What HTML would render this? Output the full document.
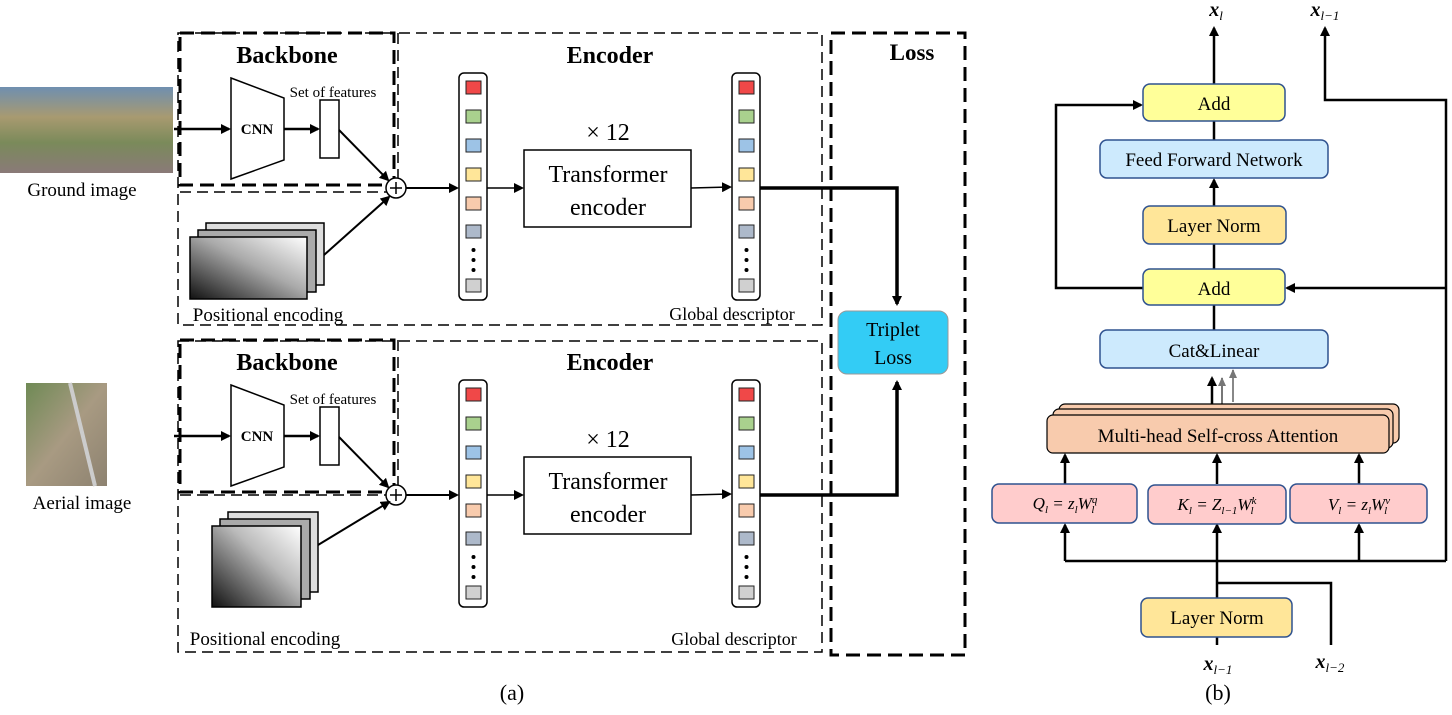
<!DOCTYPE html>
<html><head><meta charset="utf-8"><style>body{margin:0;background:#fff}svg{display:block}text{font-family:"Liberation Serif",serif}</style></head><body>
<svg width="1452" height="715" viewBox="0 0 1452 715" xmlns="http://www.w3.org/2000/svg">
<defs>
<marker id="a" markerWidth="10" markerHeight="10" refX="8" refY="5" orient="auto" markerUnits="userSpaceOnUse"><path d="M0,0L10,5L0,10z" fill="#000"/></marker>
<marker id="g" markerWidth="10" markerHeight="10" refX="8" refY="5" orient="auto" markerUnits="userSpaceOnUse"><path d="M0,1L9,5L0,9z" fill="#777"/></marker>
<linearGradient id="pe" x1="0" y1="1" x2="1" y2="0"><stop offset="0" stop-color="#111"/><stop offset="0.55" stop-color="#aaa"/><stop offset="1" stop-color="#fff"/></linearGradient>
<linearGradient id="pe2" x1="0" y1="1" x2="1" y2="0"><stop offset="0" stop-color="#111"/><stop offset="0.6" stop-color="#bbb"/><stop offset="1" stop-color="#fff"/></linearGradient>
<linearGradient id="gi" x1="0" y1="0" x2="0" y2="1"><stop offset="0" stop-color="#6f8fb0"/><stop offset="0.35" stop-color="#a89a70"/><stop offset="0.65" stop-color="#7a8a5a"/><stop offset="1" stop-color="#8a7a78"/></linearGradient>
<linearGradient id="ai" x1="0" y1="0" x2="1" y2="1"><stop offset="0" stop-color="#6f8a55"/><stop offset="0.5" stop-color="#a89a82"/><stop offset="1" stop-color="#8d8270"/></linearGradient>
</defs>

<!-- images -->
<rect x="0" y="87" width="173" height="86" fill="url(#gi)"/>
<rect x="26" y="383" width="81" height="103" fill="url(#ai)"/>
<line x1="70" y1="383" x2="95" y2="486" stroke="#ccc" stroke-width="4"/>
<text x="82" y="196" font-size="19" text-anchor="middle">Ground image</text>
<text x="82" y="509" font-size="19" text-anchor="middle">Aerial image</text>

<!-- Loss box -->
<rect x="831" y="33" width="134" height="622" fill="none" stroke="#000" stroke-width="3" stroke-dasharray="14,7"/>
<text x="912" y="60" font-size="23" font-weight="bold" text-anchor="middle">Loss</text>
<rect x="838" y="311" width="110" height="63" rx="9" fill="#33ccf5" stroke="#999"/>
<text x="893" y="336" font-size="20" text-anchor="middle">Triplet</text>
<text x="893" y="364" font-size="20" text-anchor="middle">Loss</text>

<!-- outer boxes -->
<rect x="178" y="33" width="644" height="292" fill="none" stroke="#000" stroke-width="1.5" stroke-dasharray="11,6"/>
<rect x="178" y="341" width="644" height="311" fill="none" stroke="#000" stroke-width="1.5" stroke-dasharray="11,6"/>
<line x1="180" y1="192" x2="390" y2="192" stroke="#000" stroke-width="1.5" stroke-dasharray="11,6"/>
<line x1="180" y1="495" x2="390" y2="495" stroke="#000" stroke-width="1.5" stroke-dasharray="11,6"/>

<g id="core">
<line x1="398" y1="33" x2="398" y2="185" stroke="#000" stroke-width="1.5" stroke-dasharray="11,6"/>
<rect x="180" y="33" width="214" height="152" fill="none" stroke="#000" stroke-width="3" stroke-dasharray="14,7"/>
<text x="287" y="63" font-size="24" font-weight="bold" text-anchor="middle">Backbone</text>
<text x="610" y="63" font-size="24" font-weight="bold" text-anchor="middle">Encoder</text>
<path d="M231,78L284,98L284,160L231,179z" fill="#fff" stroke="#000" stroke-width="1.5"/>
<text x="257" y="134" font-size="15" font-weight="bold" text-anchor="middle">CNN</text>
<rect x="320" y="100" width="19" height="58" fill="#fff" stroke="#000" stroke-width="1.5"/>
<text x="333" y="97" font-size="15" text-anchor="middle">Set of features</text>
<line x1="174" y1="129" x2="229" y2="129" stroke="#000" stroke-width="2.5" marker-end="url(#a)"/>
<line x1="284" y1="129" x2="318" y2="129" stroke="#000" stroke-width="2.5" marker-end="url(#a)"/>
<line x1="339" y1="130" x2="388" y2="180" stroke="#000" stroke-width="2" marker-end="url(#a)"/>
<circle cx="396" cy="188" r="10" fill="#fff" stroke="#000" stroke-width="1.5"/>
<path d="M390,188h12M396,182v12" stroke="#000" stroke-width="1.5"/>
<line x1="406" y1="188" x2="457" y2="188" stroke="#000" stroke-width="2" marker-end="url(#a)"/>
<g id="col">
<rect x="459" y="73" width="28" height="227" rx="5" fill="#fff" stroke="#000" stroke-width="1.5"/>
<rect x="466" y="81" width="15" height="13" fill="#f04848" stroke="#222"/>
<rect x="466" y="110" width="15" height="13" fill="#a9d18e" stroke="#222"/>
<rect x="466" y="139" width="15" height="13" fill="#9dc3e6" stroke="#222"/>
<rect x="466" y="168" width="15" height="13" fill="#ffe699" stroke="#222"/>
<rect x="466" y="197" width="15" height="13" fill="#f8cbad" stroke="#222"/>
<rect x="466" y="225" width="15" height="13" fill="#adb9ca" stroke="#222"/>
<circle cx="473.5" cy="250" r="2" fill="#000"/><circle cx="473.5" cy="260" r="2" fill="#000"/><circle cx="473.5" cy="270" r="2" fill="#000"/>
<rect x="466" y="279" width="15" height="13" fill="#d0d0d0" stroke="#222"/>
</g>
<use href="#col" x="273"/>
<line x1="487" y1="188" x2="522" y2="188" stroke="#000" stroke-width="1.5" marker-end="url(#a)"/>
<rect x="524" y="150" width="167" height="77" fill="#fff" stroke="#000" stroke-width="1.5"/>
<text x="608" y="182" font-size="24" text-anchor="middle">Transformer</text>
<text x="608" y="215" font-size="24" text-anchor="middle">encoder</text>
<text x="608" y="140" font-size="24" text-anchor="middle">× 12</text>
<line x1="691" y1="188" x2="730" y2="187" stroke="#000" stroke-width="1.5" marker-end="url(#a)"/>
</g>
<use href="#core" y="307"/>

<!-- top positional encoding -->
<rect x="206" y="223" width="118" height="62" fill="#ddd" stroke="#000" stroke-width="1.5"/>
<rect x="198" y="230" width="118" height="62" fill="#aaa" stroke="#000" stroke-width="1.5"/>
<rect x="190" y="237" width="117" height="62" fill="url(#pe)" stroke="#000" stroke-width="1.5"/>
<line x1="324" y1="255" x2="389" y2="197" stroke="#000" stroke-width="2" marker-end="url(#a)"/>
<text x="268" y="321" font-size="19" text-anchor="middle">Positional encoding</text>
<text x="732" y="320" font-size="18" text-anchor="middle">Global descriptor</text>

<!-- bottom positional encoding -->
<rect x="228" y="512" width="90" height="80" fill="#ddd" stroke="#000" stroke-width="1.5"/>
<rect x="220" y="519" width="90" height="80" fill="#aaa" stroke="#000" stroke-width="1.5"/>
<rect x="212" y="526" width="89" height="81" fill="url(#pe2)" stroke="#000" stroke-width="1.5"/>
<line x1="318" y1="545" x2="389" y2="502" stroke="#000" stroke-width="2" marker-end="url(#a)"/>
<text x="265" y="645" font-size="19" text-anchor="middle">Positional encoding</text>
<text x="734" y="645" font-size="18" text-anchor="middle">Global descriptor</text>

<!-- thick connectors to loss -->
<path d="M760,188H897V304" fill="none" stroke="#000" stroke-width="3.5" marker-end="url(#a)"/>
<path d="M760,495H897V382" fill="none" stroke="#000" stroke-width="3.5" marker-end="url(#a)"/>

<text x="512" y="700" font-size="22" text-anchor="middle">(a)</text>
<text x="1218" y="700" font-size="22" text-anchor="middle">(b)</text>

<!-- right panel -->
<g stroke="#000" stroke-width="2.5" fill="none">
<path d="M1214,84V28" marker-end="url(#a)"/>
<path d="M1214,140V121"/>
<path d="M1214,206V180" marker-end="url(#a)"/>
<path d="M1214,269V244"/>
<path d="M1214,330V305"/>
<path d="M1143,288H1056V105H1141" marker-end="url(#a)"/>
<path d="M1446,288H1287" marker-end="url(#a)"/>
<path d="M1446,561V100H1325V28" marker-end="url(#a)"/>
<path d="M1065,561H1446"/>
<path d="M1217,598V525" marker-end="url(#a)"/>
<path d="M1065,561V525" marker-end="url(#a)"/>
<path d="M1359,561V525" marker-end="url(#a)"/>
<path d="M1065,484V455" marker-end="url(#a)"/>
<path d="M1217,484V455" marker-end="url(#a)"/>
<path d="M1359,484V455" marker-end="url(#a)"/>
<path d="M1212,415V378" marker-end="url(#a)"/>
<path d="M1217,583H1331V645"/>
<path d="M1217,637V645"/>
</g>
<path d="M1222,404V378" stroke="#777" stroke-width="2" marker-end="url(#g)"/>
<path d="M1233,402V370" stroke="#888" stroke-width="2" marker-end="url(#g)"/>
<g stroke="#2f528f" stroke-width="1.5">
<rect x="1143" y="84" width="142" height="37" rx="7" fill="#ffff99"/>
<rect x="1100" y="140" width="228" height="38" rx="7" fill="#cdeafd"/>
<rect x="1143" y="206" width="143" height="38" rx="7" fill="#ffe699"/>
<rect x="1143" y="269" width="142" height="36" rx="7" fill="#ffff99"/>
<rect x="1100" y="330" width="228" height="38" rx="7" fill="#cdeafd"/>
<rect x="1141" y="598" width="151" height="39" rx="7" fill="#ffe699"/>
<rect x="992" y="484" width="145" height="39" rx="7" fill="#ffcccc"/>
<rect x="1148" y="485" width="138" height="39" rx="7" fill="#ffcccc"/>
<rect x="1290" y="484" width="137" height="39" rx="7" fill="#ffcccc"/>
</g>
<g stroke="#000" stroke-width="1.2" fill="#f8cbad">
<rect x="1059" y="404" width="340" height="39" rx="6"/>
<rect x="1053" y="409" width="340" height="39" rx="6"/>
<rect x="1047" y="415" width="342" height="38" rx="6"/>
</g>
<g font-size="19" text-anchor="middle">
<text x="1214" y="110">Add</text>
<text x="1214" y="166">Feed Forward Network</text>
<text x="1214" y="232">Layer Norm</text>
<text x="1214" y="295">Add</text>
<text x="1214" y="357">Cat&amp;Linear</text>
<text x="1217" y="624">Layer Norm</text>
<text x="1218" y="442">Multi-head Self-cross Attention</text>
</g>
<g font-size="17" font-style="italic" text-anchor="middle">
<text x="1065" y="509">Q<tspan font-size="11" dy="4">l</tspan><tspan dy="-4"> = z</tspan><tspan font-size="11" dy="4">l</tspan><tspan dy="-4">W</tspan><tspan font-size="11" dy="-6">q</tspan><tspan font-size="11" dx="-6" dy="10">l</tspan></text>
<text x="1217" y="510">K<tspan font-size="11" dy="4">l</tspan><tspan dy="-4"> = Z</tspan><tspan font-size="11" dy="4">l−1</tspan><tspan dy="-4">W</tspan><tspan font-size="11" dy="-6">k</tspan><tspan font-size="11" dx="-6" dy="10">l</tspan></text>
<text x="1359" y="510">V<tspan font-size="11" dy="4">l</tspan><tspan dy="-4"> = z</tspan><tspan font-size="11" dy="4">l</tspan><tspan dy="-4">W</tspan><tspan font-size="11" dy="-6">v</tspan><tspan font-size="11" dx="-6" dy="10">l</tspan></text>
</g>
<g font-size="20" font-weight="bold" font-style="italic" text-anchor="middle">
<text x="1216" y="16">x<tspan font-size="13" font-weight="normal" dy="4">l</tspan></text>
<text x="1325" y="16">x<tspan font-size="13" font-weight="normal" dy="4">l−1</tspan></text>
<text x="1218" y="670">x<tspan font-size="13" font-weight="normal" dy="4">l−1</tspan></text>
<text x="1330" y="668">x<tspan font-size="13" font-weight="normal" dy="4">l−2</tspan></text>
</g>
</svg>
</body></html>
